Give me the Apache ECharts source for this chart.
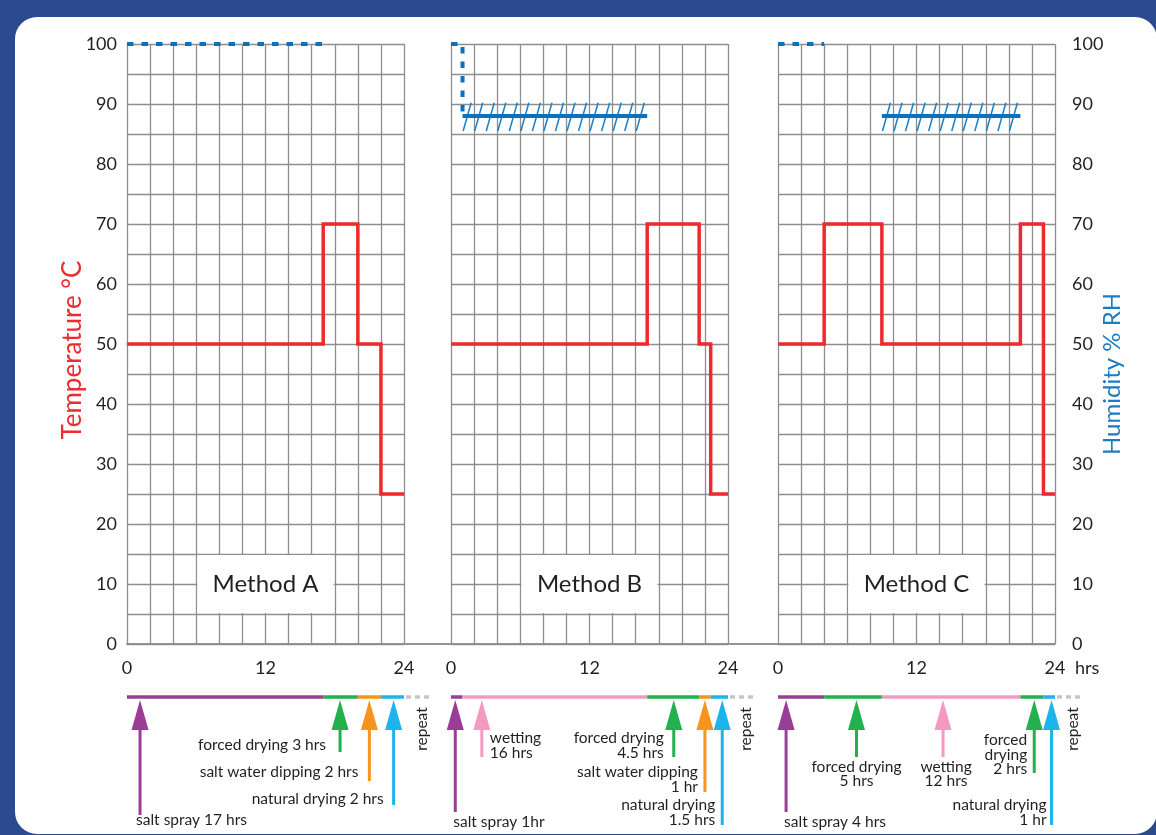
<!DOCTYPE html>
<html><head><meta charset="utf-8">
<script src="https://cdn.jsdelivr.net/npm/echarts@6/dist/echarts.min.js"></script>
<style>
html,body{margin:0;padding:0;background:#2c4a8f;overflow:hidden}
#card{position:absolute;left:15px;top:17px;width:1142px;height:817px;background:#fff;border-radius:22px}
#chart{position:absolute;left:0;top:0;width:1156px;height:835px}
</style></head>
<body><div id="card"></div><div id="chart"></div>
<script>
// ---------------- DATA ----------------
const methodNames = ['Method A', 'Method B', 'Method C'];
const hourRange = [0, 24];
const tempRange = [0, 100];

// Method A
const phaseNamesA  = ['salt spray', 'forced drying', 'salt water dipping', 'natural drying'];
const phaseHoursA  = [17, 3, 2, 2];
const phaseTempA   = [50, 70, 50, 25];
const phaseHumidA  = [100, null, null, null];
const phaseLabelsA = ['salt spray 17 hrs', 'forced drying 3 hrs', 'salt water dipping 2 hrs', 'natural drying 2 hrs'];

// Method B
const phaseNamesB  = ['salt spray', 'wetting', 'forced drying', 'salt water dipping', 'natural drying'];
const phaseHoursB  = [1, 16, 4.5, 1, 1.5];
const phaseTempB   = [50, 50, 70, 50, 25];
const phaseHumidB  = [100, 88, null, null, null];
const phaseLabelsB = ['salt spray 1hr', 'wetting\n16 hrs', 'forced drying\n4.5 hrs', 'salt water dipping\n1 hr', 'natural drying\n1.5 hrs'];

// Method C
const phaseNamesC  = ['salt spray', 'forced drying', 'wetting', 'forced drying', 'natural drying'];
const phaseHoursC  = [4, 5, 12, 2, 1];
const phaseTempC   = [50, 70, 50, 70, 25];
const phaseHumidC  = [100, null, 88, null, null];
const phaseLabelsC = ['salt spray 4 hrs', 'forced drying\n5 hrs', 'wetting\n12 hrs', 'forced\ndrying\n2 hrs', 'natural drying\n1 hr'];

// ---------------- LAYOUT / STYLE ----------------
const phaseColor = {
  'salt spray': '#9a3d97',
  'wetting': '#f49ac2',
  'forced drying': '#22b14c',
  'salt water dipping': '#f7941d',
  'natural drying': '#1cb4ea'
};
const RED = '#ee2a2f', BLUE = '#0a72bd', INK = '#231f20';
const FONT = 'Lato';
const LABEL_FS = 15.5, LABEL_LH = 14.5;
const GRID_TOP = 44, GRID_H = 600, PANEL_W = 277;
const panelLeft = [127, 451, 778];
const gridLine = { color: '#8e8e8e', width: 1.3 };
const hatchBand = [85.5, 90.2];

// arrow layout (hour where arrow points, px offsets below the axis)
const layoutA = {
  arrowHour: [1.13, 18.46, 21.0, 23.1],
  shaftEnd:  [171, 108, 137, 161],
  align:     ['left', 'right', 'right', 'right'],
  dx:        [-4, -14, -11, -10],
  ly:        [176, 101, 128, 154.5]
};
const layoutB = {
  arrowHour: [0.37, 2.67, 19.3, 22.0, 23.5],
  shaftEnd:  [168, 113, 113, 148, 181],
  align:     ['left', 'left', 'right', 'right', 'right'],
  dx:        [-2, 8, -10, -7, -7],
  ly:        [177.7, 94, 94, 128, 161]
};
const layoutC = {
  arrowHour: [0.7, 6.8, 14.3, 22.2, 23.7],
  shaftEnd:  [168, 113, 113, 129, 181],
  align:     ['left', 'center', 'center', 'right', 'right'],
  dx:        [-2, 0, 3, -7, -5],
  ly:        [177.7, 122.7, 122.7, 96, 161]
};

const methods = [
  { names: phaseNamesA, hours: phaseHoursA, temp: phaseTempA, humid: phaseHumidA, labels: phaseLabelsA, lay: layoutA },
  { names: phaseNamesB, hours: phaseHoursB, temp: phaseTempB, humid: phaseHumidB, labels: phaseLabelsB, lay: layoutB },
  { names: phaseNamesC, hours: phaseHoursC, temp: phaseTempC, humid: phaseHumidC, labels: phaseLabelsC, lay: layoutC }
];

function phaseBounds(hours) {
  const out = []; let t = 0;
  hours.forEach(h => { out.push([t, t + h]); t += h; });
  return out;
}

const grids = [], xAxes = [], yAxes = [], series = [];

methods.forEach((M, i) => {
  grids.push({ left: panelLeft[i], top: GRID_TOP, width: PANEL_W, height: GRID_H });
  xAxes.push({
    gridIndex: i, type: 'value', min: hourRange[0], max: hourRange[1], interval: 12,
    axisLine: { show: false }, axisTick: { show: false },
    axisLabel: { fontSize: 18, margin: 15, color: INK, fontFamily: FONT },
    splitLine: { show: true, lineStyle: gridLine },
    minorTick: { show: false, splitNumber: 6 },
    minorSplitLine: { show: true, lineStyle: gridLine }
  });
  yAxes.push({
    gridIndex: i, type: 'value', min: tempRange[0], max: tempRange[1], interval: 10,
    axisLine: { show: false }, axisTick: { show: false }, axisLabel: { show: false },
    splitLine: { show: true, lineStyle: gridLine },
    minorTick: { show: false, splitNumber: 2 },
    minorSplitLine: { show: true, lineStyle: gridLine }
  });

  const bounds = phaseBounds(M.hours);

  // temperature
  const tempPts = [];
  bounds.forEach((b, k) => { tempPts.push([b[0], M.temp[k]]); tempPts.push([b[1], M.temp[k]]); });
  series.push({
    type: 'line', xAxisIndex: i, yAxisIndex: i, data: tempPts, symbol: 'none', z: 5,
    lineStyle: { color: RED, width: 3.5, cap: 'butt', join: 'miter' },
    markArea: {
      silent: true, itemStyle: { color: '#ffffff' },
      label: { show: true, position: 'inside', fontSize: 24, color: INK, fontFamily: FONT },
      data: [[{ name: methodNames[i], coord: [6.1, 14.85] }, { coord: [17.9, 5.15] }]]
    }
  });

  // humidity
  bounds.forEach((b, k) => {
    const h = M.humid[k];
    if (h == null) return;
    if (h === 100) {
      const pts = [[b[0], h], [b[1], h]];
      const nh = M.humid[k + 1];
      if (nh != null) pts.push([b[1], nh]);
      series.push({
        type: 'line', xAxisIndex: i, yAxisIndex: i, data: pts, symbol: 'none', z: 6,
        lineStyle: { color: BLUE, width: 4, type: [6.5, 8], cap: 'butt' }
      });
    } else {
      series.push({
        type: 'line', xAxisIndex: i, yAxisIndex: i, data: [[b[0], h], [b[1], h]], symbol: 'none', z: 6,
        lineStyle: { color: BLUE, width: 4, cap: 'butt' }
      });
      const hatch = [];
      for (let x = b[0] + 0.4; x < b[1] + 0.2; x += 1) hatch.push([x]);
      series.push({
        type: 'custom', xAxisIndex: i, yAxisIndex: i, data: hatch, silent: true, z: 6, clip: false,
        renderItem(params, api) {
          const x = api.value(0);
          const pb = api.coord([x, hatchBand[0]]), pt = api.coord([x, hatchBand[1]]);
          return { type: 'line', shape: { x1: pb[0] - 4, y1: pb[1], x2: pt[0] + 4, y2: pt[1] },
                   style: { stroke: '#1a80c8', lineWidth: 1.5 } };
        }
      });
    }
  });

  // schedule strip with arrows and labels
  const sched = bounds.map((b, k) => [b[0], b[1], k]);
  sched.push([bounds[bounds.length - 1][1], bounds[bounds.length - 1][1], -1]);
  const L = M.lay;
  series.push({
    type: 'custom', xAxisIndex: i, yAxisIndex: i, data: sched, silent: true, clip: false, z: 6,
    renderItem(params, api) {
      const s = api.value(0), e = api.value(1), k = api.value(2);
      const p0 = api.coord([s, 0]), p1 = api.coord([e, 0]);
      const base = p0[1];
      const barY = base + 53;
      if (k < 0) {
        return { type: 'group', children: [
          { type: 'line', shape: { x1: p0[0] + 2, y1: barY, x2: p0[0] + 28, y2: barY },
            style: { stroke: '#c6c6c6', lineWidth: 3.5, lineDash: [5, 4] } },
          { type: 'text', x: p0[0] + 18, y: base + 85, rotation: Math.PI / 2,
            style: { text: 'repeat', fontSize: LABEL_FS, fontFamily: FONT, fill: INK, align: 'center', verticalAlign: 'middle' } }
        ] };
      }
      const col = phaseColor[M.names[k]];
      const ax = api.coord([L.arrowHour[k], 0])[0];
      return { type: 'group', children: [
        { type: 'line', shape: { x1: p0[0], y1: barY, x2: p1[0], y2: barY },
          style: { stroke: col, lineWidth: 3.5 } },
        { type: 'polygon', shape: { points: [[ax, base + 56], [ax - 8.5, base + 86], [ax + 8.5, base + 86]] },
          style: { fill: col } },
        { type: 'rect', shape: { x: ax - 1.5, y: base + 84, width: 3, height: L.shaftEnd[k] - 84 },
          style: { fill: col } },
        { type: 'text', x: ax + L.dx[k], y: base + L.ly[k] - LABEL_LH / 2,
          style: { text: M.labels[k], fontSize: LABEL_FS, fontFamily: FONT, fill: INK,
                   align: L.align[k], verticalAlign: 'top', lineHeight: LABEL_LH } }
      ] };
    }
  });
});

// outer frame grid: continuous top/bottom lines and the two value axes
grids.push({ left: panelLeft[0], top: GRID_TOP, width: panelLeft[2] + PANEL_W - panelLeft[0], height: GRID_H });
xAxes.push({ gridIndex: 3, type: 'value', min: 0, max: 1, position: 'bottom',
  axisLine: { show: true, lineStyle: { color: '#8e8e8e', width: 1.5 } },
  axisTick: { show: false }, axisLabel: { show: false }, splitLine: { show: false } });
xAxes.push({ gridIndex: 3, type: 'value', min: 0, max: 1, position: 'top',
  axisLine: { show: true, lineStyle: { color: '#8e8e8e', width: 1.5 } },
  axisTick: { show: false }, axisLabel: { show: false }, splitLine: { show: false } });
yAxes.push({ gridIndex: 3, type: 'value', min: tempRange[0], max: tempRange[1], interval: 10, position: 'left',
  axisLine: { show: false }, axisTick: { show: false }, splitLine: { show: false },
  axisLabel: { fontSize: 18, margin: 10, color: INK, fontFamily: FONT } });
yAxes.push({ gridIndex: 3, type: 'value', min: tempRange[0], max: tempRange[1], interval: 10, position: 'right',
  axisLine: { show: false }, axisTick: { show: false }, splitLine: { show: false },
  axisLabel: { fontSize: 18, margin: 17, color: INK, fontFamily: FONT } });

const chart = echarts.init(document.getElementById('chart'), null, { renderer: 'canvas' });
chart.setOption({
  animation: false,
  backgroundColor: 'transparent',
  textStyle: { fontFamily: FONT },
  grid: grids, xAxis: xAxes, yAxis: yAxes, series,
  graphic: [
    { type: 'text', left: 1075, top: 659,
      style: { text: 'hrs', fontSize: 18, fontFamily: FONT, fill: INK } },
    { type: 'text', x: 73, y: 350, rotation: Math.PI / 2,
      style: { text: 'Temperature °C', fontSize: 26, fontFamily: FONT, fill: RED, align: 'center', verticalAlign: 'middle' } },
    { type: 'text', x: 1112, y: 374, rotation: Math.PI / 2,
      style: { text: 'Humidity % RH', fontSize: 24, fontFamily: FONT, fill: '#1a7cc1', align: 'center', verticalAlign: 'middle' } }
  ]
});
</script>
</body></html>
